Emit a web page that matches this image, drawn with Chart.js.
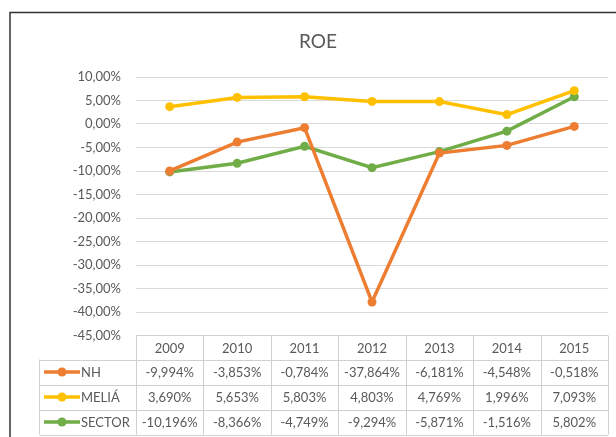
<!DOCTYPE html>
<html>
<head>
<meta charset="utf-8">
<script src="https://cdn.jsdelivr.net/npm/chart.js@4/dist/chart.umd.min.js"></script>
<style>
  html, body { margin: 0; padding: 0; background: #fff; }
  #wrap { width: 616px; height: 437px; }
</style>
</head>
<body>
<div id="wrap"><canvas id="myChart" width="616" height="437"></canvas></div>
<script>
// ---------- data ----------
const YEARS  = ["2009", "2010", "2011", "2012", "2013", "2014", "2015"];
const NH     = [-9.994, -3.853, -0.784, -37.864, -6.181, -4.548, -0.518];
const MELIA  = [3.690, 5.653, 5.803, 4.803, 4.769, 1.996, 7.093];
const SECTOR = [-10.196, -8.366, -4.749, -9.294, -5.871, -1.516, 5.802];
const SERIES_NAMES = ["NH", "MELIÁ", "SECTOR"];

const COLORS = ["#ED7D31", "#FFC000", "#70AD47"];
const FONT   = "Lato, 'Open Sans', sans-serif";
const GREY   = "#595959";

const pct = (v, d) => v.toFixed(d).replace(".", ",") + "%";

// ---------- frame, title, data table ----------
const tablePlugin = {
  id: "tablePlugin",
  beforeDraw(chart) {
    const c = chart.ctx;
    c.save();
    c.fillStyle = "#fff";
    c.fillRect(0, 0, chart.width, chart.height);
    c.strokeStyle = "#333";
    c.lineWidth = 1.5;
    c.beginPath();
    c.moveTo(10, 437); c.lineTo(10, 12.5); c.lineTo(616, 12.5);
    c.stroke();
    c.fillStyle = GREY;
    c.font = "19px " + FONT;
    c.textAlign = "center";
    c.textBaseline = "middle";
    c.fillText("ROE", 318, 42);
    c.restore();
  },
  afterDraw(chart) {
    const c = chart.ctx;
    const x = chart.scales.x;
    const area = chart.chartArea;
    const colW = (area.right - area.left) / YEARS.length;
    const top = area.bottom;
    const headH = 24, rowH = 25;
    const leftX = 39.5;
    const rows = [NH, MELIA, SECTOR];
    const bottom = top + headH + rowH * rows.length;

    c.save();
    c.strokeStyle = "#D0D0D0";
    c.lineWidth = 1;
    c.beginPath();
    // horizontal lines
    c.moveTo(area.left, top); c.lineTo(area.right, top);
    for (let r = 0; r <= rows.length; r++) {
      const y = Math.round(top + headH + r * rowH) + 0.5;
      c.moveTo(leftX, y); c.lineTo(area.right, y);
    }
    // vertical lines
    for (let i = 0; i <= YEARS.length; i++) {
      const vx = Math.round(area.left + i * colW) + 0.5;
      c.moveTo(vx, top); c.lineTo(vx, bottom);
    }
    c.moveTo(leftX, top + headH); c.lineTo(leftX, bottom);
    c.stroke();

    c.font = "13px " + FONT;
    c.fillStyle = GREY;
    c.textAlign = "center";
    c.textBaseline = "middle";
    YEARS.forEach((yr, i) => {
      c.fillText(yr, x.getPixelForValue(i), top + headH / 2 + 1);
    });
    rows.forEach((vals, r) => {
      const cy = top + headH + r * rowH + rowH / 2 + 1;
      c.fillStyle = GREY;
      c.textAlign = "center";
      vals.forEach((v, i) => c.fillText(pct(v, 3), x.getPixelForValue(i), cy));
      // legend key
      c.strokeStyle = COLORS[r];
      c.lineWidth = 3.5;
      c.beginPath();
      c.moveTo(44, cy - 1); c.lineTo(80, cy - 1);
      c.stroke();
      c.fillStyle = COLORS[r];
      c.beginPath();
      c.arc(62, cy - 1, 4.5, 0, Math.PI * 2);
      c.fill();
      c.fillStyle = GREY;
      c.textAlign = "left";
      c.fillText(SERIES_NAMES[r], 81, cy);
    });
    c.restore();
  }
};

const mk = (label, data, color) => ({
  label, data,
  borderColor: color,
  backgroundColor: color,
  borderWidth: 3.5,
  pointRadius: 4.5,
  pointHoverRadius: 4.5,
  pointBorderWidth: 0,
  tension: 0,
  fill: false,
});

new Chart(document.getElementById("myChart").getContext("2d"), {
  type: "line",
  data: {
    labels: YEARS,
    datasets: [
      mk(SERIES_NAMES[0], NH, COLORS[0]),
      mk(SERIES_NAMES[1], MELIA, COLORS[1]),
      mk(SERIES_NAMES[2], SECTOR, COLORS[2]),
    ]
  },
  options: {
    responsive: false,
    animation: false,
    layout: { padding: { left: 0, top: 77, right: 8, bottom: 101.5 } },
    plugins: { legend: { display: false }, title: { display: false }, tooltip: { enabled: false } },
    scales: {
      x: {
        display: false,
        offset: true,
      },
      y: {
        min: -45, max: 10,
        ticks: {
          stepSize: 5,
          padding: 15,
          color: GREY,
          font: { family: FONT, size: 13 },
          callback: (v) => pct(v, 2),
        },
        grid: { color: "#D9D9D9", drawTicks: false, lineWidth: 1 },
        border: { display: false },
        afterFit: (s) => { s.width = 136; },
      }
    }
  },
  plugins: [tablePlugin]
});
</script>
</body>
</html>
